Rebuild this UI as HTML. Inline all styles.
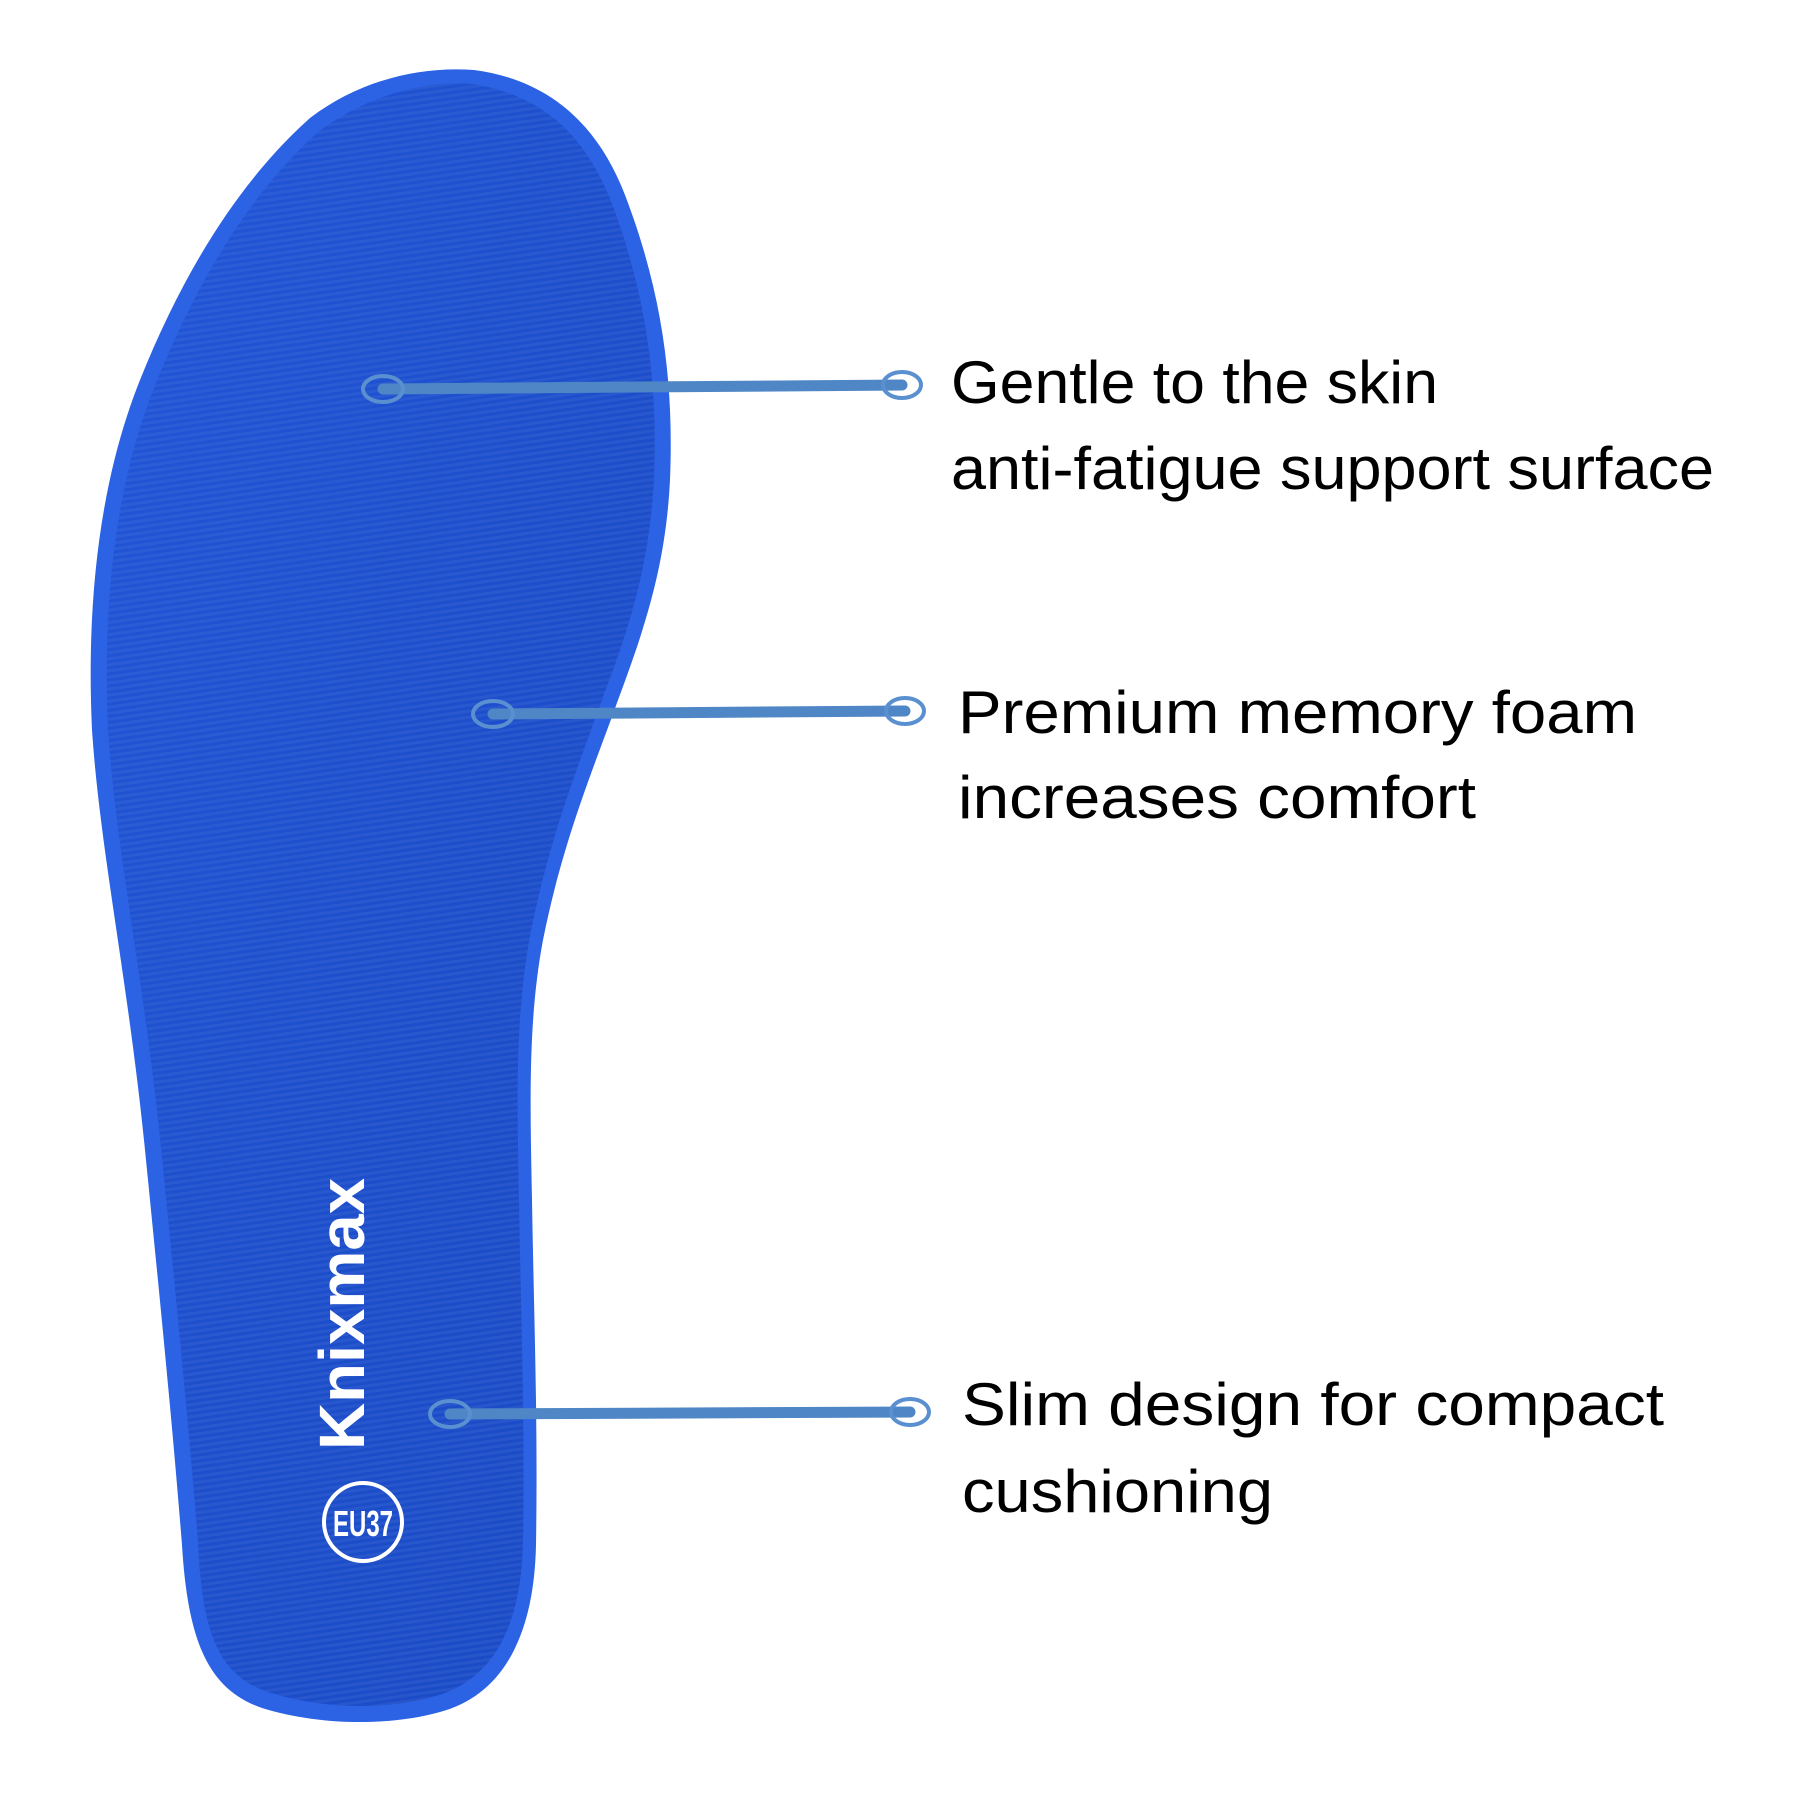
<!DOCTYPE html>
<html><head><meta charset="utf-8"><style>html,body{margin:0;padding:0;background:#fff}svg{display:block}</style></head>
<body>
<svg width="1800" height="1800" viewBox="0 0 1800 1800" xmlns="http://www.w3.org/2000/svg">
<defs>
<linearGradient id="g" x1="0" y1="0" x2="1" y2="1">
<stop offset="0" stop-color="#2256d8"/><stop offset="0.5" stop-color="#1d4fcc"/><stop offset="1" stop-color="#1a4ac4"/>
</linearGradient>
<pattern id="p" width="6" height="6" patternUnits="userSpaceOnUse" patternTransform="rotate(-8)">
<rect width="6" height="3" fill="#ffffff" opacity="0.05"/>
</pattern>
</defs>
<path d="M474,70 C550,80 598,125 625,195 C662,292 674,380 670,480 C666,560 648,620 618,700 C593,770 563,840 543,940 C528,1020 530,1100 532,1200 C534,1320 538,1420 536,1545 C534,1640 500,1696 440,1712 C390,1726 320,1726 262,1708 C210,1690 188,1645 182,1545 C172,1420 160,1300 145,1150 C128,980 100,850 92,730 C86,600 100,480 140,380 C180,280 235,185 310,118 C360,80 420,66 474,70 Z" fill="#2c62e4"/>
<path d="M472,84 C540,94 584,133 611,201 C646,294 658,380 654,478 C650,556 634,616 604,694 C580,762 550,834 530,936 C515,1018 517,1100 519,1200 C521,1320 525,1420 523,1542 C521,1632 490,1680 436,1696 C388,1710 324,1710 268,1692 C220,1676 202,1636 198,1542 C188,1418 176,1298 161,1148 C144,980 116,850 108,730 C102,602 116,484 154,388 C193,290 245,198 318,132 C366,96 424,80 472,84 Z" fill="url(#g)"/>
<path d="M472,84 C540,94 584,133 611,201 C646,294 658,380 654,478 C650,556 634,616 604,694 C580,762 550,834 530,936 C515,1018 517,1100 519,1200 C521,1320 525,1420 523,1542 C521,1632 490,1680 436,1696 C388,1710 324,1710 268,1692 C220,1676 202,1636 198,1542 C188,1418 176,1298 161,1148 C144,980 116,850 108,730 C102,602 116,484 154,388 C193,290 245,198 318,132 C366,96 424,80 472,84 Z" fill="url(#p)"/>
<g stroke="#4f86c6" stroke-linecap="round">
<line x1="383" y1="389" x2="902" y2="385" stroke-width="11"/>
<line x1="493" y1="714" x2="905" y2="711" stroke-width="11"/>
<line x1="450" y1="1414" x2="910" y2="1412" stroke-width="11"/>
</g>
<g fill="none" stroke="#5a8fd0" stroke-width="4">
<ellipse cx="383" cy="389" rx="20" ry="13"/>
<ellipse cx="493" cy="714" rx="20" ry="13"/>
<ellipse cx="450" cy="1414" rx="20" ry="13"/>
<ellipse cx="902" cy="385" rx="19" ry="13"/>
<ellipse cx="905" cy="711" rx="19" ry="13"/>
<ellipse cx="910" cy="1412" rx="19" ry="13"/>
</g>
<text x="0" y="0" transform="translate(364,1450) rotate(-90)" font-family="Liberation Sans, sans-serif" font-weight="bold" font-size="64" fill="#fff" textLength="272" lengthAdjust="spacingAndGlyphs">Knixmax</text>
<circle cx="363" cy="1522" r="39" fill="none" stroke="#fff" stroke-width="4"/>
<text x="363" y="1536" text-anchor="middle" font-family="Liberation Sans, sans-serif" font-weight="bold" font-size="36" fill="#fff" textLength="60" lengthAdjust="spacingAndGlyphs">EU37</text>
<g font-family="Liberation Sans, sans-serif" font-size="60" fill="#000">
<text x="951" y="403" textLength="487" lengthAdjust="spacingAndGlyphs">Gentle to the skin</text>
<text x="951" y="489" textLength="763" lengthAdjust="spacingAndGlyphs">anti-fatigue support surface</text>
<text x="958" y="733" textLength="679" lengthAdjust="spacingAndGlyphs">Premium memory foam</text>
<text x="958" y="818" textLength="518" lengthAdjust="spacingAndGlyphs">increases comfort</text>
<text x="962" y="1425" textLength="702" lengthAdjust="spacingAndGlyphs">Slim design for compact</text>
<text x="962" y="1512" textLength="311" lengthAdjust="spacingAndGlyphs">cushioning</text>
</g>
</svg>
</body></html>
